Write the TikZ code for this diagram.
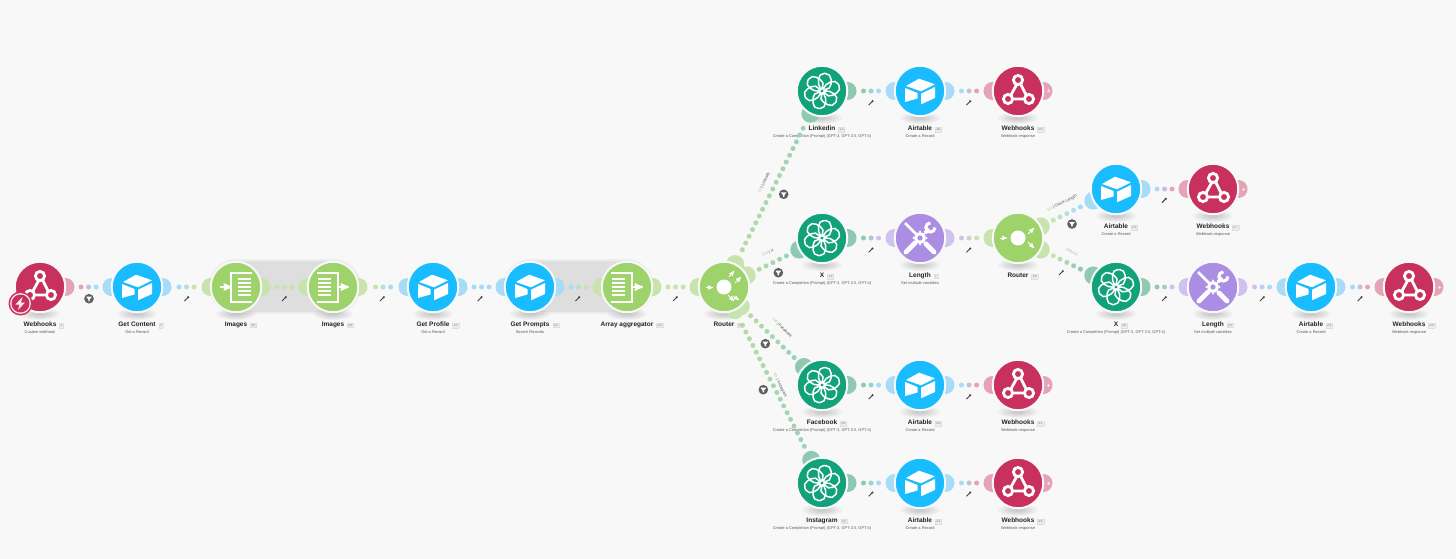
\documentclass[tikz,border=0pt]{standalone}
\usepackage{fontspec}
\setmainfont{Liberation Sans}
\usetikzlibrary{calc}
\usetikzlibrary{arrows}
\definecolor{canvas}{HTML}{F8F8F8}
\definecolor{hook}{HTML}{C8305E}
\definecolor{hookear}{HTML}{E5A3B8}
\definecolor{table}{HTML}{18BCFF}
\definecolor{tableear}{HTML}{A6DCF8}
\definecolor{flow}{HTML}{9ED26B}
\definecolor{flowear}{HTML}{C8E3AE}
\definecolor{gpt}{HTML}{12A27B}
\definecolor{gptear}{HTML}{8FC9B1}
\definecolor{tool}{HTML}{AB8DE3}
\definecolor{toolear}{HTML}{D0C2EE}
\definecolor{barfill}{HTML}{DEDEDE}
\definecolor{baredge}{HTML}{EDEDED}
\definecolor{markgray}{HTML}{5F5F5F}
\definecolor{routeA}{HTML}{B4DBA6}
\definecolor{routeB}{HTML}{9AD3B8}
\definecolor{tagA}{HTML}{A9CF8B}
\newcommand{\numbox}[1]{{\setlength{\fboxsep}{.8pt}\setlength{\fboxrule}{.3pt}\fcolorbox{barfill}{baredge}{\fontsize{3.8}{4}\selectfont\mdseries\color{gray}#1}}}
\tikzset{
  modulecircle/.style={circle,minimum size=50.5pt,inner sep=0pt,draw=canvas,line width=2pt},
  titletext/.style={font=\fontsize{6.5}{7}\selectfont\bfseries,text=black!85,inner sep=0pt},
  subtext/.style={font=\fontsize{3.95}{4.5}\selectfont,text=black!65,inner sep=0pt},
  tagtext/.style={font=\fontsize{3.9}{4.5}\selectfont,text=black!70,inner sep=0pt},
  linkdot/.style={line width=5pt,line cap=round,dash pattern=on 0pt off 500pt},
  iconline/.style={white,line width=2.8pt},
  iconrow/.style={white,line width=2pt},
  iconarrow/.style={white,line width=1.9pt,->,>=stealth'},
  tinyarrow/.style={white,line width=.9pt,->,>=stealth'}
}
% icons, drawn round (0,0) of the module
\newcommand{\iconhook}{
  \draw[iconline] (-1,-7) -- (-9,7.5) (1,-10) -- (10,7.5) (-9.5,8) -- (10,8);
  \draw[iconline,fill=hook] (0,-11) circle (4.6) (-10,8) circle (4.6) (11,8) circle (4.6);
}
\newcommand{\icontable}{
  \fill[white,rounded corners=.5pt] (-14,-5) -- (-1,-12.3) -- (15,-6.7) -- (1,.3) -- cycle;
  \fill[white,rounded corners=.5pt] (-15,-3) -- (-2.5,2) -- (-2.5,7.5) -- (-15,11) -- cycle;
  \fill[white,rounded corners=.5pt] (1,2.7) -- (15,-4) -- (15,7) -- (1,13.3) -- cycle;
}
\newcommand{\icongpt}{
  \foreach \a in {0,60,...,300}{
    \draw[white,line width=1.5pt,rotate=\a,rounded corners=5.5pt] (-3.5,-17.5) rectangle (9,-1.5);
  }
}
\newcommand{\iconsplit}{
  \foreach \r in {-8,-4,0,4,8}{\draw[iconrow] (2,\r) -- (15,\r);}
  \draw[iconrow] (16,-14.5) -- (-5,-14.5) -- (-5,14.5) -- (16,14.5);
  \draw[iconarrow] (-16,0) -- (-4,0);
}
\newcommand{\iconjoin}{
  \foreach \r in {-8,-4,0,4,8}{\draw[iconrow] (-15,\r) -- (-2,\r);}
  \draw[iconrow] (-16,-14.5) -- (5,-14.5) -- (5,14.5) -- (-16,14.5);
  \draw[iconarrow] (4,0) -- (16,0);
}
\newcommand{\icontool}{
  \draw[white,line width=2.6pt] (-15,-15) -- (-4,-4);
  \draw[white,line width=4.8pt,line cap=round] (6,6) -- (14,14);
  \draw[white,line width=4.8pt,line cap=round] (-14,14) -- (-5,5);
  \draw[white,line width=3.6pt] (5,-5) -- (9,-9);
  \draw[white,line width=3pt] (15,-10.5) arc (0:270:4.6);
  \fill[white] (0,0) circle (5.8);
  \fill[tool] (0,0) circle (2.6);
  \foreach \a in {0,45,...,315}{\fill[white] (\a:6.6) circle (1.1);}
}
\newcommand{\iconroutefour}{
  \fill[white] (0,0) circle (7.5);
  \draw[tinyarrow] (-18,.5) -- (-11,.5);
  \draw[tinyarrow] (5,-10) -- (10,-16);
  \draw[tinyarrow] (11,-4) -- (17,-10);
  \draw[tinyarrow] (4,8) -- (10,14);
  \draw[tinyarrow] (9,9) -- (15,13);
}
\newcommand{\iconroutetwo}{
  \fill[white] (0,0) circle (7.5);
  \draw[tinyarrow] (-18,0) -- (-11,0);
  \draw[tinyarrow] (10,-4) -- (16,-10);
  \draw[tinyarrow] (10,4) -- (16,10);
}
% module: name, centre, colour, icon, title, number, ears as angle/name
\newcommand{\module}[7]{
  \coordinate (#1-o) at (#2);
  \foreach \s in {1,.85,.7,.55,.4,.25}{
    \fill[black,opacity=.03] ($(#1-o)+(0,27)$) ellipse ({20*\s} and {6*\s});
  }
  \foreach \a/\n in {#7}{
    \coordinate (#1-\n) at ($(#1-o)+(\a:25.5)$);
    \fill[#3ear] (#1-\n) circle (9);
  }
  \node[modulecircle,fill=#3] (#1) at (#1-o) {};
  \begin{scope}[shift={(#1-o)}]
    #4
  \end{scope}
  \node[titletext] (#1-t) at ($(#1-o)+(0,38)$) {#5\rlap{\hspace{3pt}\numbox{#6}}};
}
\newcommand{\subline}[2]{\node[subtext] (#1-s) at ($(#1-o)+(0,45)$) {#2};}
% dotted link: from, to, first colour, last colour, first dot, dots
\newcommand{\dotlink}[6]{
  \foreach \i in {1,...,#6}{
    \pgfmathtruncatemacro{\pct}{100-100*(\i-1)/(#6-1)}
    \draw[linkdot,color=#3!\pct!#4,shorten <={#5pt+(\i-1)*7.55pt}] (#1) -- (#2);
  }
}
\newcommand{\hop}[4]{
  \path let \p1=($(#2)-(#1)$),\n1={veclen(\x1,\y1)} in \pgfextra{\xdef\hopgap{\n1}};
  \pgfmathsetmacro{\hopstart}{\hopgap/2-26.25-7.5}
  \dotlink{#1}{#2}{#3}{#4}{\hopstart}{3}
}
\newcommand{\wrenchmark}[1]{
  \begin{scope}[shift={(#1)}]
    \draw[black!75,line width=.9pt] (-2.3,2.3) -- (1,-1);
    \fill[black!75] (1.5,-1.5) circle (1.2);
  \end{scope}
}
\newcommand{\filtermark}[1]{
  \begin{scope}[shift={(#1)}]
    \fill[markgray] (0,0) circle (4.8);
    \fill[white,rounded corners=.3pt] (-2.9,-2) -- (2.9,-2) -- (.7,.8) -- (.7,2.7) -- (-.7,2.7) -- (-.7,.8) -- cycle;
  \end{scope}
}
\newcommand{\plusmark}[1]{
  \draw[white!70!hookear,line width=.5pt] ($(#1-r)+(3.5,0)$) -- ($(#1-r)+(6.5,0)$) ($(#1-r)+(5,-1.5)$) -- ($(#1-r)+(5,1.5)$);
}
\begin{document}
\begin{tikzpicture}[x=1pt,y=-1pt]
  \useasboundingbox (0,0) rectangle (1456,559);
  \fill[canvas] (0,0) rectangle (1456,559);
  % grey bars behind the paired modules
  \draw[fill=barfill,draw=baredge,line width=2pt,rounded corners=26.5pt] (210,260) rectangle (360,313);
  \draw[fill=barfill,draw=baredge,line width=2pt,rounded corners=26.5pt] (504,260) rectangle (653,313);
  % main row
  \module{hookA}{40,287}{hook}{\iconhook}{Webhooks}{1}{0/r}
  \subline{hookA}{Custom webhook}
  \module{content}{137,287}{table}{\icontable}{Get Content}{3}{180/l,0/r}
  \subline{content}{Get a Record}
  \module{imgA}{236,287}{flow}{\iconsplit}{Images}{25}{180/l,0/r}
  \module{imgB}{333,287}{flow}{\iconjoin}{Images}{26}{180/l,0/r}
  \module{profile}{433,287}{table}{\icontable}{Get Profile}{15}{180/l,0/r}
  \subline{profile}{Get a Record}
  \module{prompts}{530,287}{table}{\icontable}{Get Prompts}{14}{180/l,0/r}
  \subline{prompts}{Search Records}
  \module{array}{627,287}{flow}{\iconjoin}{Array aggregator}{18}{180/l,0/r}
  \module{routerA}{724,287}{flow}{\iconroutefour}{Router}{4}{180/l,-64/a,-27/b,49/c,65/d}
  % badge on the trigger
  \fill[hook] (20.5,303.5) circle (12);
  \fill[white!75!hookear] (20.5,303.5) circle (10.4);
  \fill[hook] (20.5,303.5) circle (9);
  \fill[white!80!hookear] (22.5,297) -- (15.5,304.5) -- (19.5,304.5) -- (18,310) -- (25,302.5) -- (21,302.5) -- cycle;
  % linkedin row
  \module{linkedin}{822,91}{gpt}{\icongpt}{Linkedin}{12}{117/a,0/r}
  \subline{linkedin}{Create a Completion (Prompt) (GPT-3, GPT-3.5, GPT-4)}
  \module{tableA}{920,91}{table}{\icontable}{Airtable}{16}{180/l,0/r}
  \subline{tableA}{Create a Record}
  \module{hookB}{1018,91}{hook}{\iconhook}{Webhooks}{26}{180/l,0/r}
  \subline{hookB}{Webhook response}
  % x row
  \module{xA}{822,238}{gpt}{\icongpt}{X}{13}{153/a,0/r}
  \subline{xA}{Create a Completion (Prompt) (GPT-3, GPT-3.5, GPT-4)}
  \module{lengthA}{920,238}{tool}{\icontool}{Length}{7}{180/l,0/r}
  \subline{lengthA}{Set multiple variables}
  \module{routerB}{1018,238}{flow}{\iconroutetwo}{Router}{19}{180/l,-27/a,27/b}
  \module{tableB}{1116,189}{table}{\icontable}{Airtable}{23}{153/a,0/r}
  \subline{tableB}{Create a Record}
  \module{hookC}{1213,189}{hook}{\iconhook}{Webhooks}{27}{180/l,0/r}
  \subline{hookC}{Webhook response}
  \module{xB}{1116,287}{gpt}{\icongpt}{X}{20}{-153/a,0/r}
  \subline{xB}{Create a Completion (Prompt) (GPT-3, GPT-3.5, GPT-4)}
  \module{lengthB}{1213,287}{tool}{\icontool}{Length}{22}{180/l,0/r}
  \subline{lengthB}{Set multiple variables}
  \module{tableC}{1311,287}{table}{\icontable}{Airtable}{24}{180/l,0/r}
  \subline{tableC}{Create a Record}
  \module{hookD}{1409,287}{hook}{\iconhook}{Webhooks}{28}{180/l,0/r}
  \subline{hookD}{Webhook response}
  % facebook row
  \module{facebook}{822,385}{gpt}{\icongpt}{Facebook}{29}{-135/a,0/r}
  \subline{facebook}{Create a Completion (Prompt) (GPT-3, GPT-3.5, GPT-4)}
  \module{tableD}{920,385}{table}{\icontable}{Airtable}{30}{180/l,0/r}
  \subline{tableD}{Create a Record}
  \module{hookE}{1018,385}{hook}{\iconhook}{Webhooks}{31}{180/l,0/r}
  \subline{hookE}{Webhook response}
  % instagram row
  \module{instagram}{822,483}{gpt}{\icongpt}{Instagram}{32}{-115/a,0/r}
  \subline{instagram}{Create a Completion (Prompt) (GPT-3, GPT-3.5, GPT-4)}
  \module{tableE}{920,483}{table}{\icontable}{Airtable}{33}{180/l,0/r}
  \subline{tableE}{Create a Record}
  \module{hookF}{1018,483}{hook}{\iconhook}{Webhooks}{34}{180/l,0/r}
  \subline{hookF}{Webhook response}
  \foreach \e in {hookB,hookC,hookD,hookE,hookF}{\plusmark{\e}}
  % links
  \hop{hookA}{content}{hookear}{tableear}
  \hop{content}{imgA}{tableear}{flowear}
  \hop{imgA}{imgB}{flowear}{flowear}
  \hop{imgB}{profile}{flowear}{tableear}
  \hop{profile}{prompts}{tableear}{tableear}
  \hop{prompts}{array}{tableear}{flowear}
  \hop{array}{routerA}{flowear}{flowear}
  \hop{linkedin}{tableA}{gptear}{tableear}
  \hop{tableA}{hookB}{tableear}{hookear}
  \hop{xA}{lengthA}{gptear}{toolear}
  \hop{lengthA}{routerB}{toolear}{flowear}
  \hop{tableB}{hookC}{tableear}{hookear}
  \hop{xB}{lengthB}{gptear}{toolear}
  \hop{lengthB}{tableC}{toolear}{tableear}
  \hop{tableC}{hookD}{tableear}{hookear}
  \hop{facebook}{tableD}{gptear}{tableear}
  \hop{tableD}{hookE}{tableear}{hookear}
  \hop{instagram}{tableE}{gptear}{tableear}
  \hop{tableE}{hookF}{tableear}{hookear}
  \dotlink{routerA-a}{linkedin-a}{routeA}{routeB}{16}{19}
  \dotlink{routerA-b}{xA-a}{routeA}{routeB}{14}{5}
  \dotlink{routerA-c}{facebook-a}{routeA}{routeB}{13.7}{9}
  \dotlink{routerA-d}{instagram-a}{routeA}{routeB}{17}{19}
  \dotlink{routerB-a}{tableB-a}{flowear}{tableear}{14}{5}
  \dotlink{routerB-b}{xB-a}{flowear}{gptear}{14}{5}
  % labels on the routes
  \node[tagtext,rotate=63] (tagA) at (764,183) {{\color{tagA}1st} | Linkedin};
  \node[tagtext,rotate=26] (tagB) at (768,253) {{\color{tagA}2nd} | X};
  \node[tagtext,rotate=-45] (tagC) at (782,328) {{\color{tagA}3rd} | Facebook};
  \node[tagtext,rotate=-63] (tagD) at (780,385) {{\color{tagA}4th} | Instagram};
  \node[tagtext,rotate=26] (tagE) at (1062,203) {{\color{tagA}1st} | Check Length};
  \node[tagtext,rotate=-26,text=tagA] (tagF) at (1072,252) {fallback};
  % filters and wrenches
  \foreach \f in {{89,298.7},{783.7,194.3},{778.3,272.7},{765.3,343.7},{763.3,389.7},{1072,224}}{\filtermark{\f}}
  \foreach \w in {{186.7,298.7},{284.3,298.7},{382.3,298.7},{480,298.7},{577.7,298.7},{675.3,298.7},
    {871,102.7},{968.7,102.7},{871,250},{968.7,250},{871,396.7},{968.7,396.7},{871,494},{968.7,494},
    {1164.3,200.3},{1061.3,272.7},{1164.3,298.7},{1262.3,298.7},{1360,298.7}}{\wrenchmark{\w}}
\end{tikzpicture}
\end{document}
